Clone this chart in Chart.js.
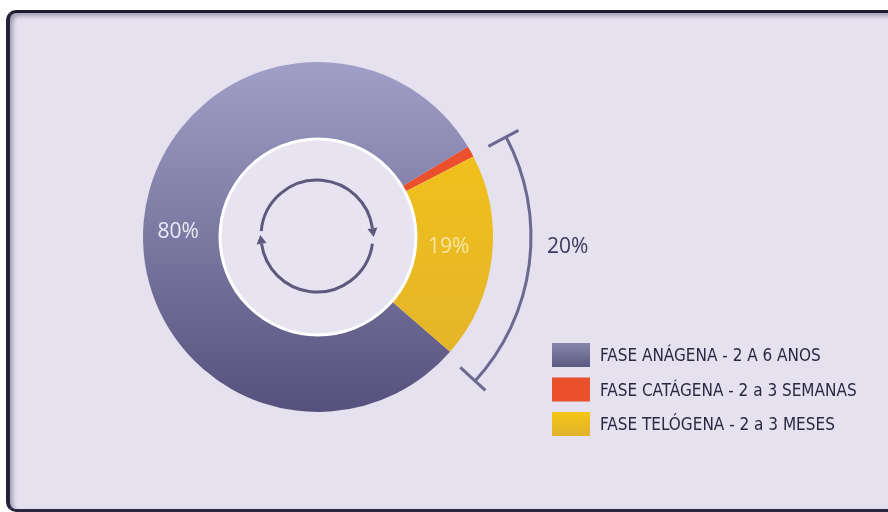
<!DOCTYPE html>
<html>
<head>
<meta charset="utf-8">
<script src="https://cdn.jsdelivr.net/npm/chart.js@4/dist/chart.umd.min.js"></script>
<style>
  html, body { margin: 0; padding: 0; background: #ffffff; width: 888px; height: 512px; overflow: hidden; }
  #panel {
    position: absolute; left: 6px; top: 10px; width: 894px; height: 496px;
    background: #e5e1ef;
    border-top: 3px solid #1d1b2b; border-left: 4px solid #24223a; border-bottom: 3px solid #2a283e;
    border-radius: 10px;
    box-shadow: inset 3px 3px 4px rgba(40,38,70,0.35);
  }
  #wrap { position: absolute; left: 0; top: 0; width: 888px; height: 512px; }
</style>
</head>
<body>
<div id="panel"></div>
<div id="wrap"><canvas id="c" width="888" height="512"></canvas></div>
<script>
// ---- data ----
const categories = ['FASE ANÁGENA - 2 A 6 ANOS', 'FASE CATÁGENA - 2 a 3 SEMANAS', 'FASE TELÓGENA - 2 a 3 MESES'];
const values = [80, 1, 19];
const sliceLabels = ['80%', '', '19%'];
const bracketLabel = '20%';
const bracketSlices = [1, 2];

// ---- styles ----
const colorStops = [
  ['#a19fc8', '#55517c'],
  ['#e9502b', '#e9502b'],
  ['#f4c515', '#e2b22e']
];
const labelAngleOffset = [-3, 0, -2.5];   // degrees
const labelRadius = [140, 0, 131];

function sliceFill(ctx) {
  const chart = ctx.chart;
  const area = chart.chartArea;
  if (!area) return colorStops[ctx.dataIndex][0];
  const g = chart.ctx.createLinearGradient(0, area.top, 0, area.bottom);
  const s = colorStops[ctx.dataIndex];
  g.addColorStop(0, s[0]);
  g.addColorStop(1, s[1]);
  return g;
}

const decor = {
  id: 'decor',
  afterDatasetsDraw(chart) {
    const c = chart.ctx;
    const meta = chart.getDatasetMeta(0);
    const arcs = meta.data;
    const a0 = arcs[0];
    const cx = a0.x, cy = a0.y;
    const outer = a0.outerRadius, inner = a0.innerRadius;
    const D = Math.PI / 180;

    // white ring around hole
    c.save();
    c.beginPath();
    c.arc(cx, cy, inner + 1, 0, Math.PI * 2);
    c.fillStyle = '#e7e3f1';
    c.fill();
    c.lineWidth = 3;
    c.strokeStyle = '#ffffff';
    c.stroke();
    c.restore();

    // circular arrows in centre
    const ar = 56, acx = cx - 1, acy = cy - 1;
    c.save();
    c.strokeStyle = '#5d5a7d';
    c.fillStyle = '#5d5a7d';
    c.lineWidth = 3;
    const segs = [[185, 352], [8, 172]];
    segs.forEach(([s, e]) => {
      const sr = s * D, er = e * D;
      c.beginPath();
      c.arc(acx, acy, ar, sr, er);
      c.stroke();
      const px = acx + ar * Math.cos(er), py = acy + ar * Math.sin(er);
      const tx = -Math.sin(er), ty = Math.cos(er);
      const nx = Math.cos(er), ny = Math.sin(er);
      c.beginPath();
      c.moveTo(px + tx * 9, py + ty * 9);
      c.lineTo(px + nx * 5, py + ny * 5);
      c.lineTo(px - nx * 5, py - ny * 5);
      c.closePath();
      c.fill();
    });
    c.restore();

    // slice labels
    c.save();
    c.font = '21px "Open Sans", sans-serif';
    c.textAlign = 'center';
    c.textBaseline = 'middle';
    const labelCols = ['#ebe9f6', '#ffffff', '#f7e6a2'];
    arcs.forEach((a, i) => {
      if (!sliceLabels[i]) return;
      const mid = (a.startAngle + a.endAngle) / 2 + labelAngleOffset[i] * D;
      const r = labelRadius[i];
      c.fillStyle = labelCols[i];
      c.fillText(sliceLabels[i], a.x + r * Math.cos(mid), a.y + r * Math.sin(mid));
    });
    c.restore();

    // bracket arc
    const bs = arcs[bracketSlices[0]].startAngle + 3 * D;
    const be = arcs[bracketSlices[bracketSlices.length - 1]].endAngle + 1.5 * D;
    const br = outer + 38;
    c.save();
    c.strokeStyle = '#6b6990';
    c.lineWidth = 3;
    c.lineCap = 'butt';
    c.beginPath();
    c.arc(cx, cy, br, bs, be);
    c.stroke();
    [bs, be].forEach(ang => {
      const dx = Math.cos(ang), dy = Math.sin(ang);
      c.beginPath();
      c.moveTo(cx + (br - 20) * dx, cy + (br - 20) * dy);
      c.lineTo(cx + (br + 14) * dx, cy + (br + 14) * dy);
      c.stroke();
    });
    c.fillStyle = '#3c3a5c';
    c.font = '21px "Open Sans", sans-serif';
    c.textAlign = 'left';
    c.textBaseline = 'middle';
    c.fillText(bracketLabel, cx + br + 16, cy + 10);
    c.restore();

    // legend
    c.save();
    const lx = 552, ly = 343, step = 34.5;
    c.font = '17px "Liberation Sans Narrow", "DejaVu Sans Condensed", sans-serif';
    c.textBaseline = 'middle';
    c.textAlign = 'left';
    categories.forEach((lab, i) => {
      const y = ly + i * step;
      const g = c.createLinearGradient(0, y, 0, y + 24);
      const s = colorStops[i];
      g.addColorStop(0, i === 0 ? '#8785ad' : s[0]);
      g.addColorStop(1, i === 0 ? '#5b5882' : s[1]);
      c.fillStyle = g;
      c.fillRect(lx, y, 38, 24);
      c.fillStyle = '#2b2942';
      c.fillText(lab, 600, y + 14);
    });
    c.restore();
  }
};

new Chart(document.getElementById('c'), {
  type: 'doughnut',
  data: {
    labels: categories,
    datasets: [{
      data: values,
      backgroundColor: sliceFill,
      borderWidth: 0
    }]
  },
  options: {
    responsive: false,
    animation: false,
    rotation: 131,
    cutout: 97,
    events: [],
    layout: { padding: { left: 143, right: 395, top: 62, bottom: 100 } },
    plugins: { legend: { display: false }, tooltip: { enabled: false } }
  },
  plugins: [decor]
});
</script>
</body>
</html>
